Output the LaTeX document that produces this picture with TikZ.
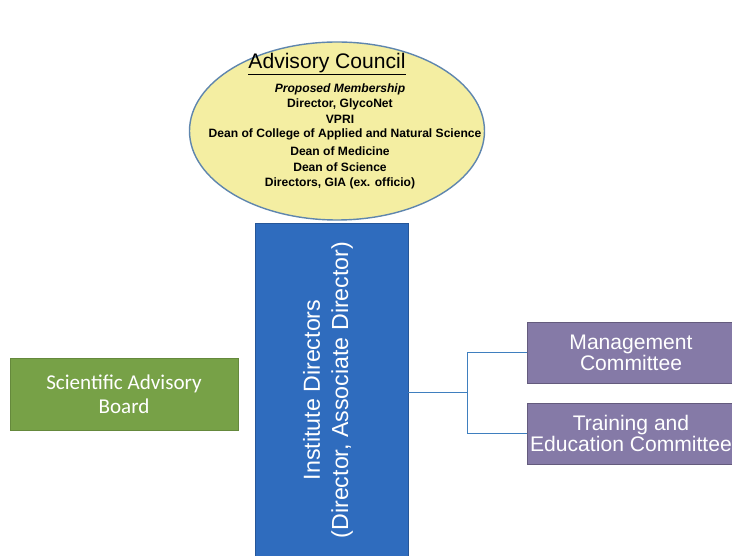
\documentclass[tikz,border=0pt]{standalone}
\usepackage{fontspec}
\setmainfont{Liberation Sans}
\newfontfamily\calibri{Carlito}
\usepackage{tikz}
\usetikzlibrary{shapes.geometric}

\definecolor{councilfill}{HTML}{F4EEA2}
\definecolor{councilline}{HTML}{5F86AE}
\definecolor{dirblue}{HTML}{2F6CBE}
\definecolor{sabgreen}{HTML}{77A147}
\definecolor{cttpurple}{HTML}{857AA7}
\definecolor{linkblue}{HTML}{3F7FBF}

\begin{document}
\begin{tikzpicture}[x=0.025cm,y=-0.025cm]
    \tikzset{
      council/.style={ellipse,draw=councilline,line width=1pt,fill=councilfill,
        minimum width=295*0.025cm,minimum height=178*0.025cm,inner sep=0pt},
      member/.style={font=\fontsize{8.6}{10}\selectfont\bfseries},
      dirbox/.style={draw=dirblue!80!black,fill=dirblue,minimum width=153*0.025cm,
        minimum height=340*0.025cm,inner sep=0pt},
      sabbox/.style={draw=sabgreen!85!black,fill=sabgreen,minimum width=228*0.025cm,
        minimum height=72*0.025cm,text=white,align=center,
        font=\calibri\fontsize{15}{17}\selectfont},
      cttbox/.style={draw=cttpurple!75!black,fill=cttpurple,minimum width=208*0.025cm,
        minimum height=61*0.025cm,inner sep=0pt,text=white,align=center,
        font=\fontsize{15}{12.8}\selectfont},
      link/.style={draw=linkblue,line width=0.6pt}
    }
    \useasboundingbox (0,0) rectangle (732,556);

    \node[council] (council) at (337,131) {};
    \node[font=\fontsize{15}{16}\selectfont] (title) at (327,64) {\underline{Advisory Council}};
    \node[member,font=\fontsize{8.6}{10}\selectfont\bfseries\itshape] (proposed) at (340,89) {Proposed Membership};
    \node[member] (glyconet) at (340,104) {Director, GlycoNet};
    \node[member] (vpri) at (340,119) {VPRI};
    \node[member] (deancol) at (345,134.5) {Dean of College of Applied and Natural Science};
    \node[member] (deanmed) at (340,151) {Dean of Medicine};
    \node[member] (deansci) at (340,167) {Dean of Science};
    \node[member] (gia) at (340,183) {Directors, GIA (ex. officio)};

    \node[dirbox] (dirs) at (331.5,393) {};
    \node[rotate=90,text=white,align=center,font=\fontsize{16.5}{20}\selectfont] (dirtext) at (328,390)
      {Institute Directors\\(Director, Associate Director)};

    \node[sabbox] (sab) at (124,394) {Scientific Advisory\\Board};

    \node[cttbox] (mgmt) at (631,352.5) {Management\\Committee};
    \node[cttbox] (train) at (631,433.5) {Training and\\Education Committee};

    \coordinate (split) at (467,392);
    \draw[link] (dirs.east |- split) -- (split);
    \draw[link] (split) |- (mgmt.west);
    \draw[link] (split) |- (train.west);
\end{tikzpicture}
\end{document}
